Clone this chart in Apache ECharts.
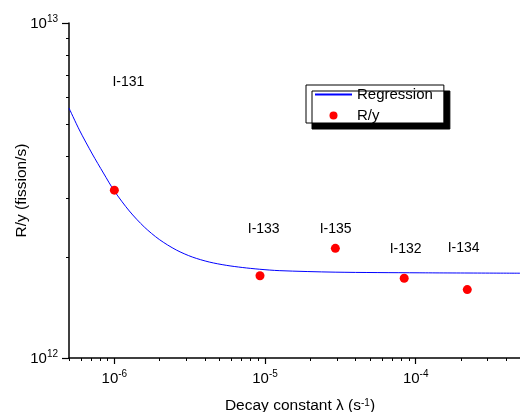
<!DOCTYPE html>
<html>
<head>
<meta charset="utf-8">
<script src="https://cdn.jsdelivr.net/npm/echarts@6/dist/echarts.min.js"></script>
<style>
  html, body { margin: 0; padding: 0; background: #fff; }
  #chart { width: 520px; height: 412px; }
</style>
</head>
<body>
<div id="chart"></div>
<script>
// Measured R/y for iodine isotopes against decay constant
const isotopes = ['I-131', 'I-133', 'I-135', 'I-132', 'I-134'];
const lambda = [1.0e-6, 9.26e-6, 2.93e-5, 8.39e-5, 2.2e-4];
const ratio = [3.17e12, 1.76e12, 2.125e12, 1.73e12, 1.60e12];

// Regression curve sampled along lambda
const fitLambda = [5e-7, 5.86e-7, 7.14e-7, 8.46e-7, 1e-6, 1.257e-6, 1.581e-6, 1.988e-6, 2.577e-6,
  3.29e-6, 4.266e-6, 5.528e-6, 7.06e-6, 9.15e-6, 1.242e-5, 2.92e-5, 1.053e-4, 5e-4];
const fitRatio = [5.575e12, 4.793e12, 4.064e12, 3.566e12, 3.151e12, 2.747e12, 2.46e12, 2.258e12, 2.101e12,
  2.002e12, 1.934e12, 1.891e12, 1.863e12, 1.841e12, 1.823e12, 1.804e12, 1.796e12, 1.791e12];

// Isotope name annotations (data coordinates)
const noteLambda = [1.24e-6, 9.8e-6, 2.94e-5, 8.57e-5, 2.08e-4];
const noteRatio = [6.68e12, 2.42e12, 2.43e12, 2.11e12, 2.135e12];

// Axis ticks
const xMajor = [1e-6, 1e-5, 1e-4];
const xMinor = [5e-7, 6e-7, 7e-7, 8e-7, 9e-7,
  2e-6, 3e-6, 4e-6, 5e-6, 6e-6, 7e-6, 8e-6, 9e-6,
  2e-5, 3e-5, 4e-5, 5e-5, 6e-5, 7e-5, 8e-5, 9e-5,
  2e-4, 3e-4, 4e-4];
const yMajor = [1e12, 1e13];
const yMinor = [2e12, 3e12, 4e12, 5e12, 6e12, 7e12, 8e12, 9e12];

const FONT = "'Liberation Sans', Arial, Helvetica, sans-serif";

function powLabel(v) {
  const e = Math.round(Math.log10(v));
  return '{b|10}{s|' + e + '}';
}
const powRich = {
  b: { fontFamily: FONT, fontSize: 15, color: '#000', lineHeight: 17, verticalAlign: 'bottom' },
  s: { fontFamily: FONT, fontSize: 10, color: '#000', lineHeight: 10, verticalAlign: 'top' }
};

const chart = echarts.init(document.getElementById('chart'), null, { renderer: 'canvas' });

chart.setOption({
  animation: false,
  backgroundColor: '#fff',
  grid: { left: 69, top: 23, width: 452, height: 335, containLabel: false, outerBoundsMode: 'none' },
  legend: {
    data: [
      { name: 'Regression', itemStyle: { color: 'rgba(0,0,0,0)', borderWidth: 0 } },
      { name: 'R/y', icon: 'circle' }
    ],
    orient: 'vertical',
    left: 306,
    top: 85,
    itemWidth: 37,
    itemHeight: 8,
    itemGap: 6,
    padding: [2, 11, 0, 8],
    backgroundColor: '#fff',
    borderColor: '#000',
    borderWidth: 1,
    borderRadius: 0,
    shadowColor: '#000',
    shadowBlur: 0,
    shadowOffsetX: 6,
    shadowOffsetY: 6,
    textStyle: { fontFamily: FONT, fontSize: 15, color: '#000' }
  },
  xAxis: [
    {
      type: 'log', logBase: 10, min: 5e-7, max: 5e-4,
      position: 'bottom',
      name: 'Decay constant \u03bb (s{s|-1})',
      nameLocation: 'middle',
      nameGap: 40,
      nameTextStyle: {
        fontFamily: FONT, fontSize: 15.5, color: '#000', padding: [0, 0, 0, 10],
        rich: {
          s: { fontFamily: FONT, fontSize: 10, color: '#000', verticalAlign: 'top', lineHeight: 10 }
        }
      },
      axisLine: { show: true, onZero: false, lineStyle: { color: '#000', width: 1.5 } },
      axisTick: { show: true, inside: false, length: 6, customValues: xMajor, lineStyle: { color: '#000', width: 1.2 } },
      axisLabel: {
        show: true, margin: 11, customValues: xMajor, formatter: powLabel, rich: powRich,
        fontFamily: FONT, fontSize: 15, color: '#000'
      },
      splitLine: { show: false },
      minorTick: { show: false }
    },
    {
      type: 'log', logBase: 10, min: 5e-7, max: 5e-4,
      position: 'bottom',
      axisLine: { show: false },
      axisTick: { show: true, inside: false, length: 3, customValues: xMinor, lineStyle: { color: '#000', width: 1 } },
      axisLabel: { show: false },
      splitLine: { show: false }
    }
  ],
  yAxis: [
    {
      type: 'log', logBase: 10, min: 1e12, max: 1e13,
      position: 'left',
      name: 'R/y (fission/s)',
      nameLocation: 'middle',
      nameGap: 39,
      nameMoveOverlap: false,
      nameTextStyle: { fontFamily: FONT, fontSize: 15.5, color: '#000' },
      axisLine: { show: true, onZero: false, lineStyle: { color: '#000', width: 1.5 } },
      axisTick: { show: true, inside: false, length: 7, customValues: yMajor, lineStyle: { color: '#000', width: 1.2 } },
      axisLabel: {
        show: true, margin: 11, customValues: yMajor, formatter: powLabel, rich: powRich,
        fontFamily: FONT, fontSize: 15, color: '#000'
      },
      splitLine: { show: false },
      minorTick: { show: false }
    },
    {
      type: 'log', logBase: 10, min: 1e12, max: 1e13,
      position: 'left',
      axisLine: { show: false },
      axisTick: { show: true, inside: false, length: 3, customValues: yMinor, lineStyle: { color: '#000', width: 1 } },
      axisLabel: { show: false },
      splitLine: { show: false }
    }
  ],
  series: [
    {
      name: 'Regression',
      type: 'line',
      xAxisIndex: 0, yAxisIndex: 0,
      data: fitLambda.map((x, i) => [x, fitRatio[i]]),
      symbol: 'none',
      smooth: 0.3,
      lineStyle: { color: '#0000ff', width: 1 },
      itemStyle: { color: '#0000ff' },
      z: 2
    },
    {
      name: 'R/y',
      type: 'scatter',
      xAxisIndex: 0, yAxisIndex: 0,
      data: lambda.map((x, i) => [x, ratio[i]]),
      symbol: 'circle',
      symbolSize: 9,
      itemStyle: { color: '#ff0000', opacity: 1 },
      z: 3
    },
    {
      name: 'labels',
      type: 'scatter',
      xAxisIndex: 0, yAxisIndex: 0,
      data: noteLambda.map((x, i) => [x, noteRatio[i], isotopes[i]]),
      symbolSize: 0,
      silent: true,
      itemStyle: { opacity: 1 },
      label: {
        show: true,
        position: 'inside',
        formatter: p => p.value[2],
        fontFamily: FONT,
        fontSize: 14,
        color: '#000',
        opacity: 1
      },
      z: 4
    }
  ]
});
</script>
</body>
</html>
